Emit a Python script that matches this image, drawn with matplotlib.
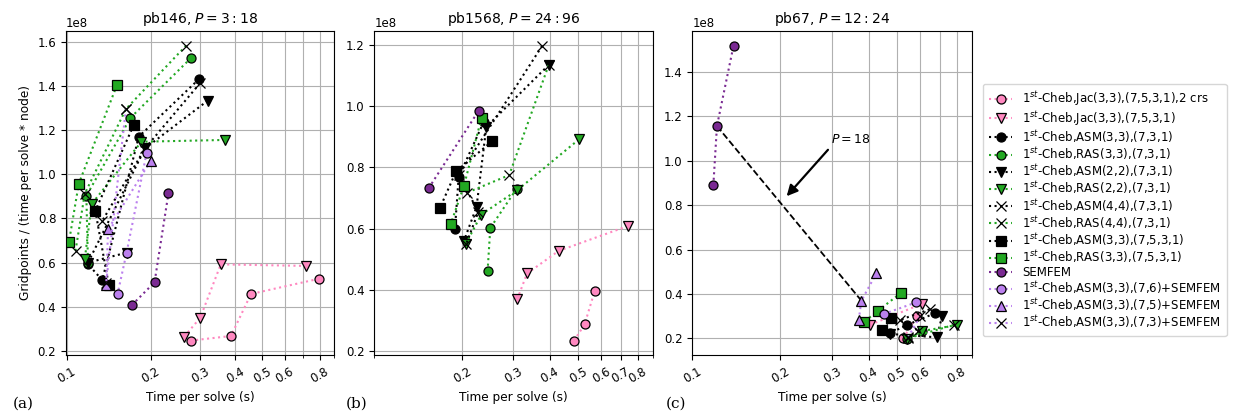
import matplotlib
matplotlib.use('Agg')
import matplotlib.pyplot as plt

# time per solve (s) and gridpoints/(time per solve * node) in units of 1e8
# panel (a) pb146
a_jac2_t = [0.277, 0.386, 0.455, 0.796]
a_jac2_g = [0.247, 0.268, 0.458, 0.527]
a_jac_t = [0.263, 0.300, 0.355, 0.718]
a_jac_g = [0.265, 0.351, 0.592, 0.585]
a_asm33_t = [0.297, 0.181, 0.134, 0.119]
a_asm33_g = [1.431, 1.170, 0.521, 0.594]
a_ras33_t = [0.278, 0.169, 0.1176, 0.1192]
a_ras33_g = [1.526, 1.255, 0.902, 0.600]
a_asm22_t = [0.319, 0.1905, 0.1192, 0.1637]
a_asm22_g = [1.333, 1.117, 0.600, 0.645]
a_ras22_t = [0.367, 0.185, 0.1228, 0.1161]
a_ras22_g = [1.155, 1.147, 0.865, 0.615]
a_asm44_t = [0.299, 0.1905, 0.1339]
a_asm44_g = [1.411, 1.117, 0.788]
a_ras44_t = [0.267, 0.1628, 0.1161, 0.1076]
a_ras44_g = [1.582, 1.295, 0.912, 0.654]
a_asm33b_t = [0.1738, 0.1266, 0.1414]
a_asm33b_g = [1.224, 0.835, 0.499]
a_ras33b_t = [0.1513, 0.1105, 0.1019]
a_ras33b_g = [1.404, 0.957, 0.692]
a_sem_t = [0.171, 0.206, 0.231]
a_sem_g = [0.408, 0.511, 0.915]
a_s76_t = [0.1931, 0.1637, 0.1521]
a_s76_g = [1.098, 0.645, 0.460]
a_s75_t = [0.1994, 0.1406, 0.1384]
a_s75_g = [1.060, 0.751, 0.500]
a_s73_t = [0.1628, 0.1384]
a_s73_g = [1.295, 0.510]

# panel (b) pb1568
b_jac2_t = [0.484, 0.526, 0.570]
b_jac2_g = [0.233, 0.286, 0.396]
b_jac_t = [0.309, 0.334, 0.429, 0.744]
b_jac_g = [0.368, 0.453, 0.527, 0.609]
b_asm33_t = [0.2372, 0.1947, 0.189]
b_asm33_g = [0.949, 0.769, 0.597]
b_ras33_t = [0.3075, 0.2499, 0.2447]
b_ras33_g = [0.730, 0.602, 0.462]
b_asm22_t = [0.3964, 0.2422, 0.2242, 0.203]
b_asm22_g = [1.136, 0.933, 0.671, 0.560]
b_ras22_t = [0.5031, 0.3095, 0.2328, 0.2063]
b_ras22_g = [0.892, 0.726, 0.646, 0.551]
b_asm44_t = [0.3762, 0.1947, 0.2275, 0.2063]
b_asm44_g = [1.198, 0.775, 0.655, 0.548]
b_ras44_t = [0.3964, 0.2901, 0.2085]
b_ras44_g = [1.136, 0.775, 0.718]
b_asm33b_t = [0.2541, 0.1907, 0.168]
b_asm33b_g = [0.887, 0.787, 0.668]
b_ras33b_t = [0.2333, 0.203, 0.183]
b_ras33b_g = [0.963, 0.740, 0.616]
b_sem_t = [0.1536, 0.228]
b_sem_g = [0.732, 0.986]

# panel (c) pb67
c_jac2_t = [0.525, 0.585]
c_jac2_g = [0.200, 0.300]
c_jac_t = [0.405, 0.607]
c_jac_g = [0.2615, 0.3545]
c_asm33_t = [0.672, 0.541, 0.472]
c_asm33_g = [0.3125, 0.260, 0.2225]
c_ras33_t = [0.610, 0.541]
c_ras33_g = [0.233, 0.1955]
c_asm22_t = [0.713, 0.684, 0.472]
c_asm22_g = [0.3005, 0.2045, 0.220]
c_ras22_t = [0.803, 0.610, 0.541]
c_ras22_g = [0.260, 0.233, 0.1955]
c_asm44_t = [0.646, 0.511, 0.590]
c_asm44_g = [0.3305, 0.2825, 0.235]
c_ras44_t = [0.780, 0.545]
c_ras44_g = [0.260, 0.200]
c_asm33b_t = [0.478, 0.4455]
c_asm33b_g = [0.290, 0.2375]
c_ras33b_t = [0.517, 0.431, 0.385]
c_ras33b_g = [0.4055, 0.3245, 0.2735]
c_sem_t = [0.118, 0.1214, 0.1383]
c_sem_g = [0.889, 1.156, 1.518]
c_s76_t = [0.450, 0.582]
c_s76_g = [0.3095, 0.362]
c_s75_t = [0.370, 0.378, 0.425]
c_s75_g = [0.2825, 0.3695, 0.4925]
c_s73_t = [0.545, 0.600]
c_s73_g = [0.205, 0.300]

labels = ['1$^{st}$-Cheb,Jac(3,3),(7,5,3,1),2 crs',
          '1$^{st}$-Cheb,Jac(3,3),(7,5,3,1)',
          '1$^{st}$-Cheb,ASM(3,3),(7,3,1)',
          '1$^{st}$-Cheb,RAS(3,3),(7,3,1)',
          '1$^{st}$-Cheb,ASM(2,2),(7,3,1)',
          '1$^{st}$-Cheb,RAS(2,2),(7,3,1)',
          '1$^{st}$-Cheb,ASM(4,4),(7,3,1)',
          '1$^{st}$-Cheb,RAS(4,4),(7,3,1)',
          '1$^{st}$-Cheb,ASM(3,3),(7,5,3,1)',
          '1$^{st}$-Cheb,RAS(3,3),(7,5,3,1)',
          'SEMFEM',
          '1$^{st}$-Cheb,ASM(3,3),(7,6)+SEMFEM',
          '1$^{st}$-Cheb,ASM(3,3),(7,5)+SEMFEM',
          '1$^{st}$-Cheb,ASM(3,3),(7,3)+SEMFEM']

pink = '#ff88c0'
green = '#22a822'
dpurple = '#7a2a92'
lpurple = '#bb80ee'
colors = [pink, pink, 'k', green, 'k', green, 'k', green, 'k', green,
          dpurple, lpurple, lpurple, lpurple]
markers = ['o', 'v', 'o', 'o', 'v', 'v', 'x', 'x', 's', 's', 'o', 'o', '^', 'x']

panel_a = [(a_jac2_t, a_jac2_g), (a_jac_t, a_jac_g), (a_asm33_t, a_asm33_g),
           (a_ras33_t, a_ras33_g), (a_asm22_t, a_asm22_g), (a_ras22_t, a_ras22_g),
           (a_asm44_t, a_asm44_g), (a_ras44_t, a_ras44_g), (a_asm33b_t, a_asm33b_g),
           (a_ras33b_t, a_ras33b_g), (a_sem_t, a_sem_g), (a_s76_t, a_s76_g),
           (a_s75_t, a_s75_g), (a_s73_t, a_s73_g)]
panel_b = [(b_jac2_t, b_jac2_g), (b_jac_t, b_jac_g), (b_asm33_t, b_asm33_g),
           (b_ras33_t, b_ras33_g), (b_asm22_t, b_asm22_g), (b_ras22_t, b_ras22_g),
           (b_asm44_t, b_asm44_g), (b_ras44_t, b_ras44_g), (b_asm33b_t, b_asm33b_g),
           (b_ras33b_t, b_ras33b_g), (b_sem_t, b_sem_g), None, None, None]
panel_c = [(c_jac2_t, c_jac2_g), (c_jac_t, c_jac_g), (c_asm33_t, c_asm33_g),
           (c_ras33_t, c_ras33_g), (c_asm22_t, c_asm22_g), (c_ras22_t, c_ras22_g),
           (c_asm44_t, c_asm44_g), (c_ras44_t, c_ras44_g), (c_asm33b_t, c_asm33b_g),
           (c_ras33b_t, c_ras33b_g), (c_sem_t, c_sem_g), (c_s76_t, c_s76_g),
           (c_s75_t, c_s75_g), (c_s73_t, c_s73_g)]

titles = ['pb146, $P=3:18$', 'pb1568, $P=24:96$', 'pb67, $P=12:24$']
xlims = [(0.0995, 0.877), (0.142, 0.805), (0.1, 0.896)]
ylims = [(0.182, 1.648), (0.186, 1.247), (0.125, 1.584)]
xtick_sets = [[0.1, 0.2, 0.3, 0.4, 0.5, 0.6, 0.8],
              [0.2, 0.3, 0.4, 0.5, 0.6, 0.7, 0.8],
              [0.1, 0.2, 0.3, 0.4, 0.5, 0.6, 0.8]]
minor_ticks = [0.1, 0.2, 0.3, 0.4, 0.5, 0.6, 0.7, 0.8, 0.9]

fig = plt.figure(figsize=(12.36, 4.15), dpi=100)
rects = [[0.0534, 0.1446, 0.2168, 0.7807],
         [0.3028, 0.1446, 0.2252, 0.7807],
         [0.5601, 0.1446, 0.2261, 0.7807]]
axes = [fig.add_axes(r) for r in rects]

handles = []
for k, (ax, panel) in enumerate(zip(axes, [panel_a, panel_b, panel_c])):
    for i, s in enumerate(panel):
        if s is None:
            continue
        t, g = s
        ln, = ax.plot(t, [v * 1e8 for v in g], linestyle=':', lw=1.5,
                      color=colors[i], marker=markers[i], ms=6.5,
                      markerfacecolor=colors[i], markeredgecolor='k',
                      mew=0.9, label=labels[i])
        if k == 0:
            handles.append(ln)
    ax.set_xscale('log')
    ax.set_xlim(xlims[k])
    ax.set_ylim(ylims[k][0] * 1e8, ylims[k][1] * 1e8)
    ax.set_xticks(minor_ticks, minor=True)
    ax.set_xticks(xtick_sets[k])
    ax.set_xticklabels([str(v) for v in xtick_sets[k]], rotation=30)
    ax.xaxis.set_minor_formatter(plt.NullFormatter())
    ax.grid(True, which='both', color='#b0b0b0', lw=0.8)
    ax.set_axisbelow(True)
    ax.tick_params(labelsize=8.5)
    ax.yaxis.get_offset_text().set_fontsize(8.5)
    ax.set_title(titles[k], fontsize=10)
    ax.set_xlabel('Time per solve (s)', fontsize=8.7)

axes[0].set_ylabel('Gridpoints / (time per solve * node)', fontsize=8.7)

# P = 18 link between SEMFEM and the (7,5)+SEMFEM run
axes[2].plot([c_sem_t[1], c_s75_t[1]], [c_sem_g[1] * 1e8, c_s75_g[1] * 1e8],
             'k--', lw=1.3, zorder=1.5)
axes[2].annotate('$P=18$', xy=(0.21, 0.84e8), xytext=(0.2985, 1.0955e8),
                 ha='left', va='center', fontsize=9,
                 arrowprops=dict(arrowstyle='-|>', color='k', lw=1.6,
                                 mutation_scale=16, relpos=(0, 0),
                                 shrinkA=1, shrinkB=0))

fig.legend(handles, labels, loc='upper left', bbox_to_anchor=(977 / 1236, 1 - 78 / 415),
           fontsize=8.5, labelspacing=0.05, borderpad=0.5)

for x, lab in zip([13, 346, 666], ['(a)', '(b)', '(c)']):
    fig.text(x / 1236, 1 - 404 / 415, lab, family='serif', fontsize=11, va='center')

plt.savefig('out.png', dpi=100)
